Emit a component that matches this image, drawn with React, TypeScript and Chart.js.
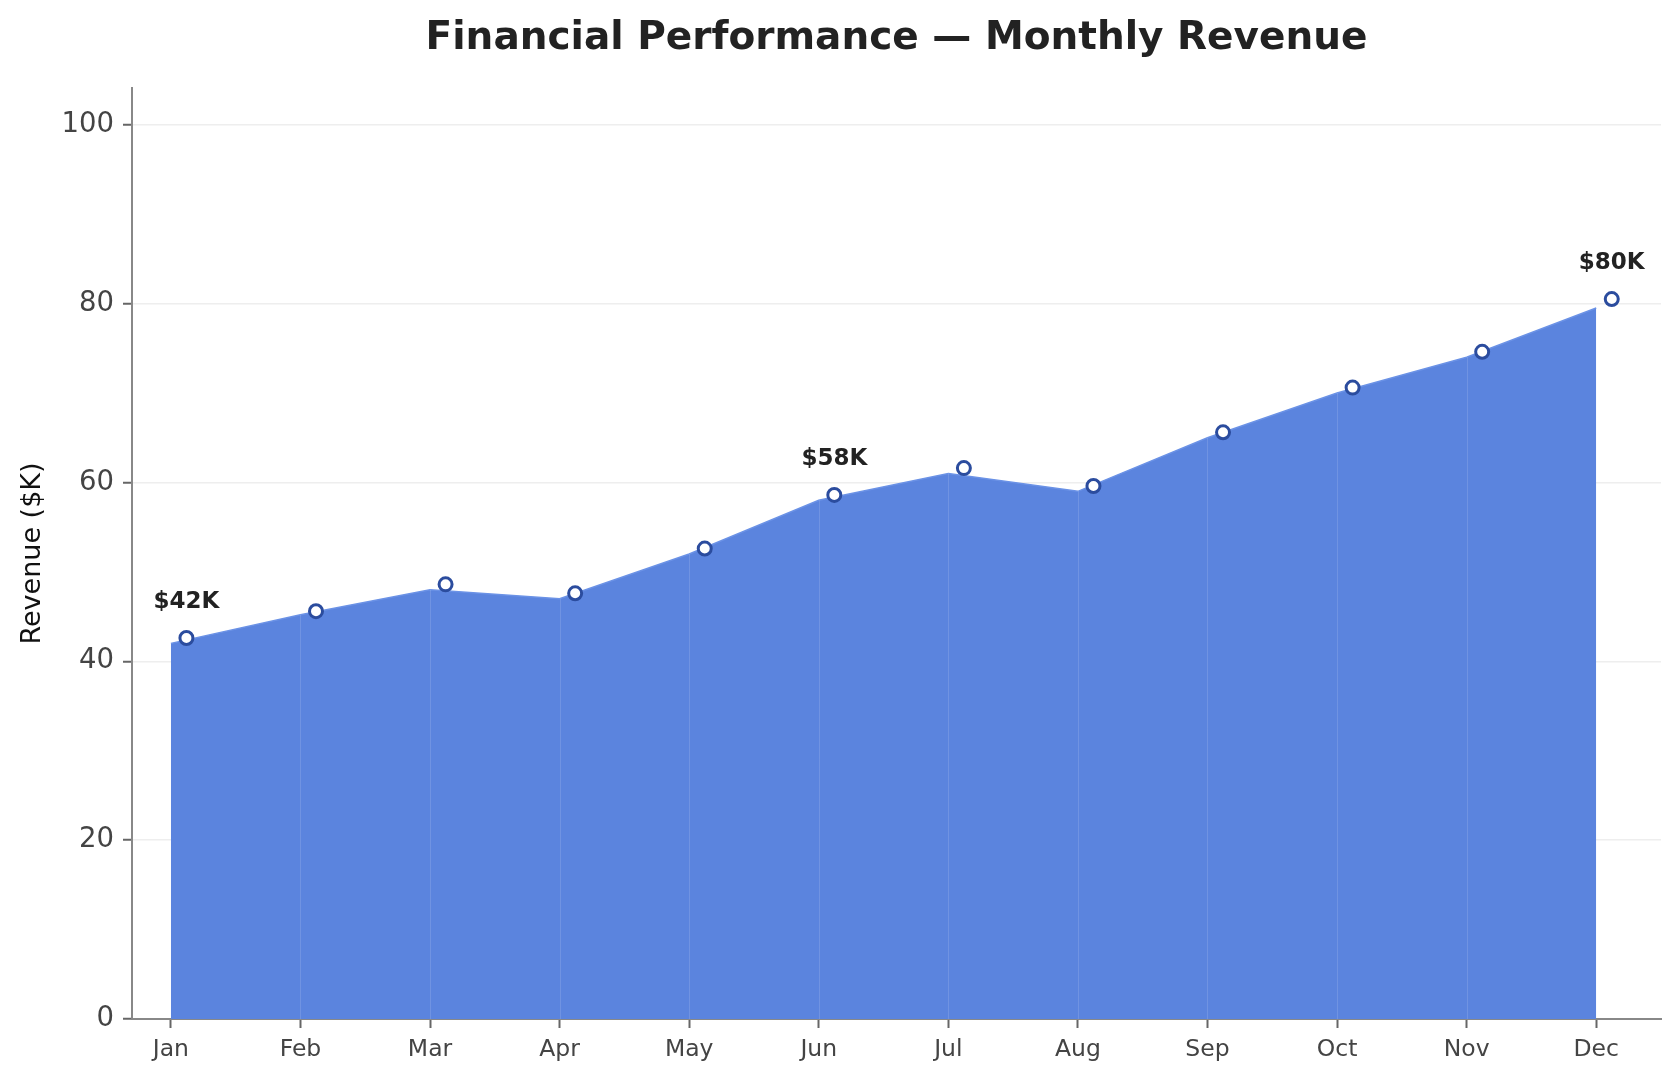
import React, { useEffect, useRef } from "react";
import { Chart, registerables } from "chart.js";

Chart.register(...registerables);

const MONTHS = ["Jan", "Feb", "Mar", "Apr", "May", "Jun", "Jul", "Aug", "Sep", "Oct", "Nov", "Dec"];
const REVENUE = [42, 45.2, 48, 47, 52, 58, 61, 59, 65, 70, 74, 79.5];
const MARKER_VALUES = [42.6, 45.6, 48.6, 47.6, 52.6, 58.6, 61.6, 59.6, 65.6, 70.6, 74.6, 80.5];
const LABELS: (string | null)[] = ["$42K", null, null, null, null, "$58K", null, null, null, null, null, "$80K"];
const Y_TICKS = [0, 20, 40, 60, 80, 100];
const MARKER_SHIFT = 0.12;

const TITLE = "Financial Performance \u2014 Monthly Revenue";
const FONT = "'DejaVu Sans', 'Liberation Sans', sans-serif";

export default function App() {
  const ref = useRef<HTMLCanvasElement | null>(null);

  useEffect(() => {
    const canvas = ref.current;
    if (!canvas) return;

    const titlePlugin = {
      id: "customTitle",
      afterDraw(chart: any) {
        const { ctx, chartArea } = chart;
        ctx.save();
        ctx.font = `bold 39px ${FONT}`;
        ctx.fillStyle = "#222222";
        ctx.textAlign = "center";
        ctx.textBaseline = "middle";
        ctx.fillText(TITLE, (chartArea.left + chartArea.right) / 2, 39);
        ctx.restore();
      },
    };

    const seamPlugin = {
      id: "seams",
      afterDatasetDraw(chart: any, args: any) {
        if (args.index !== 0) return;
        const { ctx } = chart;
        const xs = chart.scales.x;
        const ys = chart.scales.y;
        ctx.save();
        ctx.strokeStyle = "rgba(255,255,255,0.13)";
        ctx.lineWidth = 1;
        REVENUE.forEach((v, i) => {
          if (i === 0 || i === REVENUE.length - 1) return;
          const px = Math.round(xs.getPixelForValue(i)) + 0.5;
          ctx.beginPath();
          ctx.moveTo(px, ys.getPixelForValue(0));
          ctx.lineTo(px, ys.getPixelForValue(v));
          ctx.stroke();
        });
        ctx.restore();
      },
    };

    const labelPlugin = {
      id: "valueLabels",
      afterDatasetsDraw(chart: any) {
        const { ctx } = chart;
        const xs = chart.scales.x;
        const ys = chart.scales.y;
        ctx.save();
        ctx.font = `bold 23px ${FONT}`;
        ctx.fillStyle = "#222222";
        ctx.textAlign = "center";
        ctx.textBaseline = "middle";
        LABELS.forEach((lab, i) => {
          if (!lab) return;
          const px = xs.getPixelForValue(i + MARKER_SHIFT);
          const py = ys.getPixelForValue(MARKER_VALUES[i]);
          ctx.fillText(lab, px, py - 36);
        });
        ctx.restore();
      },
    };

    const chart = new Chart(canvas, {
      type: "line",
      data: {
        datasets: [
          {
            label: "Revenue",
            data: REVENUE.map((v, i) => ({ x: i, y: v })),
            fill: "origin",
            backgroundColor: "#5b84de",
            borderColor: "#6b92e6",
            borderWidth: 1.5,
            pointRadius: 0,
            tension: 0,
            order: 2,
          },
          {
            label: "Markers",
            data: MARKER_VALUES.map((v, i) => ({ x: i + MARKER_SHIFT, y: v })),
            showLine: false,
            fill: false,
            pointRadius: 6.5,
            pointBorderWidth: 3,
            pointBackgroundColor: "#ffffff",
            pointBorderColor: "#2b4c9e",
            order: 1,
          },
        ],
      },
      options: {
        responsive: false,
        animation: false,
        devicePixelRatio: 1,
        layout: { padding: { top: 88, right: 18, left: 0, bottom: 0 } },
        plugins: {
          legend: { display: false },
          tooltip: { enabled: false },
          title: { display: false },
        },
        scales: {
          x: {
            type: "linear",
            min: -0.3,
            max: 11.5,
            afterBuildTicks(scale: any) {
              scale.ticks = MONTHS.map((_, i) => ({ value: i }));
            },
            afterFit(scale: any) {
              scale.height = 61;
            },
            ticks: {
              callback: (v: any) => MONTHS[v as number] ?? "",
              font: { family: FONT, size: 23.5 },
              color: "#444444",
              padding: 8,
              maxRotation: 0,
              autoSkip: false,
            },
            grid: {
              display: true,
              drawOnChartArea: false,
              drawTicks: true,
              tickLength: 9,
              tickWidth: 2,
              tickColor: "#666666",
            },
            border: { display: true, color: "#888888", width: 2 },
          },
          y: {
            type: "linear",
            min: 0,
            max: 104.1,
            afterBuildTicks(scale: any) {
              scale.ticks = Y_TICKS.map((v) => ({ value: v }));
            },
            afterFit(scale: any) {
              scale.width = 132;
            },
            ticks: {
              font: { family: FONT, size: 27.5 },
              color: "#444444",
              padding: 9,
            },
            grid: {
              display: true,
              drawOnChartArea: true,
              color: "#eeeeee",
              lineWidth: 1.5,
              drawTicks: true,
              tickLength: 9,
              tickWidth: 2,
              tickColor: "#666666",
            },
            border: { display: true, color: "#888888", width: 2 },
            title: {
              display: true,
              text: "Revenue ($K)",
              font: { family: FONT, size: 27 },
              color: "#111111",
              padding: { top: 17, bottom: 0 },
            },
          },
        },
      },
      plugins: [titlePlugin, seamPlugin, labelPlugin],
    } as any);

    return () => chart.destroy();
  }, []);

  return (
    <div style={{ position: "fixed", left: 0, top: 0, width: 1679, height: 1080, background: "#ffffff" }}>
      <canvas ref={ref} width={1679} height={1080} style={{ width: 1679, height: 1080, display: "block" }} />
    </div>
  );
}
